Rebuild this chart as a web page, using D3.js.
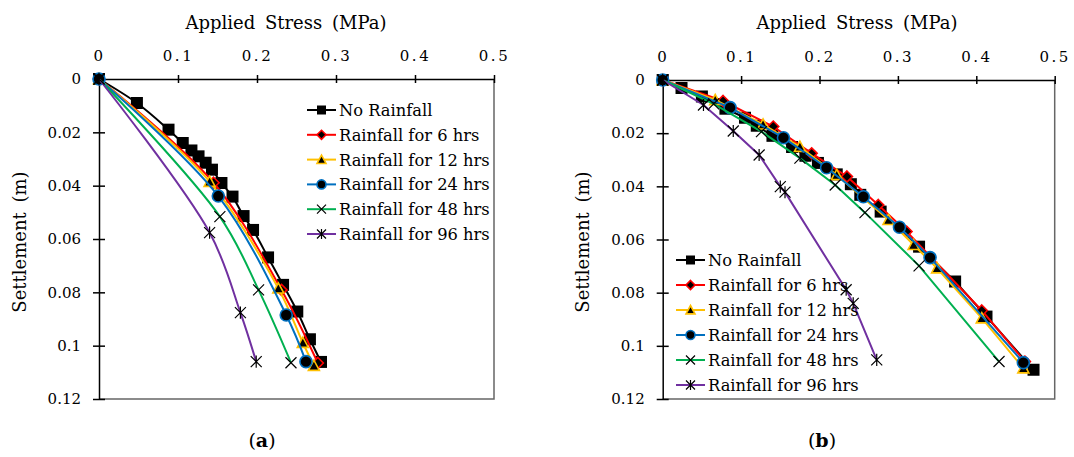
<!DOCTYPE html>
<html lang="en">
<head>
<meta charset="UTF-8">
<title>Settlement vs Applied Stress</title>
<style>
  body { margin: 0; background: #fff; }
  svg text { font-family: "DejaVu Serif", "Liberation Serif", serif; }
  .axis path, .axis line { stroke: #000; stroke-width: 1.5; }
  .xaxis .tick text { font-size: 15px; letter-spacing: 2.5px; fill: #000; }
  .yaxis .tick text { font-size: 15px; fill: #000; }
  .frame { fill: none; stroke: #666; stroke-width: 1.5; }
  .title { font-size: 18px; word-spacing: 4px; fill: #000; }
  .ytitle { font-size: 18px; word-spacing: 4px; fill: #000; }
  .legend text { font-size: 16.3px; fill: #000; }
  .caption { font-size: 19px; fill: #000; }
  .series { fill: none; stroke-width: 2; }
</style>
</head>
<body>
<svg id="chart" width="1074" height="457" style="display:block"></svg>
<script src="https://d3js.org/d3.v7.min.js"></script>
<script>
// axis ticks
const stressTicks = [0, 0.1, 0.2, 0.3, 0.4, 0.5];
const stressTickLabels = ["0", "0.1", "0.2", "0.3", "0.4", "0.5"];
const settleTicks = [0, 0.02, 0.04, 0.06, 0.08, 0.1, 0.12];
const settleTickLabels = ["0", "0.02", "0.04", "0.06", "0.08", "0.1", "0.12"];

const seriesNames = ["No Rainfall", "Rainfall for 6 hrs", "Rainfall for 12 hrs",
                     "Rainfall for 24 hrs", "Rainfall for 48 hrs", "Rainfall for 96 hrs"];

// panel (a): [applied stress MPa, settlement m]
const aNoRain = [[0,0],[0.048,0.0090],[0.088,0.0190],[0.106,0.0240],[0.117,0.0268],[0.126,0.0290],
                 [0.135,0.0314],[0.143,0.0340],[0.155,0.0390],[0.169,0.0441],[0.183,0.0514],
                 [0.195,0.0566],[0.214,0.0669],[0.233,0.0772],[0.251,0.0872],[0.267,0.0976],[0.281,0.1061]];
const aRain6 = [[0,0],[0.145,0.0389],[0.231,0.0791],[0.277,0.1065]];
const aRain12 = [[0,0],[0.140,0.0385],[0.227,0.0785],[0.258,0.0989],[0.272,0.1075]];
const aRain24 = [[0,0],[0.151,0.0439],[0.237,0.0885],[0.262,0.1060]];
const aRain48 = [[0,0],[0.153,0.0516],[0.202,0.0791],[0.243,0.1064]];
const aRain96 = [[0,0],[0.140,0.0576],[0.179,0.0876],[0.199,0.1060]];

// panel (b)
const bNoRain = [[0,0],[0.024,0.0030],[0.050,0.0062],[0.080,0.0108],[0.105,0.0142],[0.120,0.0172],
                 [0.140,0.0210],[0.165,0.0252],[0.182,0.0285],[0.198,0.0312],[0.222,0.0355],
                 [0.240,0.0392],[0.252,0.0432],[0.278,0.0495],[0.327,0.0627],[0.373,0.0758],
                 [0.413,0.0890],[0.473,0.1090]];
const bRain6 = [[0,0],[0.077,0.0079],[0.141,0.0175],[0.190,0.0276],[0.235,0.0363],[0.275,0.0470],
                [0.311,0.0570],[0.407,0.0867],[0.462,0.1059]];
const bRain12 = [[0,0],[0.067,0.0075],[0.128,0.0167],[0.175,0.0251],[0.222,0.0357],[0.288,0.0526],
                 [0.320,0.0620],[0.350,0.0708],[0.407,0.0896],[0.460,0.1084]];
const bRain24 = [[0,0],[0.086,0.0104],[0.154,0.0217],[0.209,0.0330],[0.256,0.0439],[0.302,0.0554],
                 [0.341,0.0668],[0.460,0.1063]];
const bRain48 = [[0,0],[0.065,0.0090],[0.126,0.0194],[0.175,0.0294],[0.220,0.0395],[0.258,0.0499],
                 [0.327,0.0699],[0.429,0.1059]];
const bRain96 = [[0,0],[0.052,0.0094],[0.090,0.0192],[0.123,0.0282],[0.150,0.0401],[0.156,0.0422],
                 [0.234,0.0789],[0.243,0.0840],[0.273,0.1053]];

const styles = [
  { color: "#000000", marker: "square" },
  { color: "#FF0000", marker: "diamond" },
  { color: "#FFC000", marker: "triangle" },
  { color: "#0070C0", marker: "circle" },
  { color: "#00B050", marker: "x" },
  { color: "#7030A0", marker: "star" }
];

const serif = '"DejaVu Serif", "Liberation Serif", serif';
const svg = d3.select("#chart");

function markerPath(type, s) {
  const h = s / 2;
  if (type === "square") return `M${-h},${-h}H${h}V${h}H${-h}Z`;
  if (type === "diamond") return `M0,${-h}L${h},0L0,${h}L${-h},0Z`;
  if (type === "triangle") return `M0,${-h}L${h},${h*0.85}L${-h},${h*0.85}Z`;
  if (type === "circle") return `M${h},0A${h},${h} 0 1,1 ${-h},0A${h},${h} 0 1,1 ${h},0Z`;
  if (type === "x") return `M${-h},${-h}L${h},${h}M${-h},${h}L${h},${-h}`;
  if (type === "star") return `M${-h},${-h}L${h},${h}M${-h},${h}L${h},${-h}M0,${-h*1.1}V${h*1.1}`;
}

function drawMarker(g, type, color, size) {
  const p = g.append("path").attr("d", markerPath(type, size));
  if (type === "square") p.attr("fill", "#000");
  else if (type === "x" || type === "star") p.attr("fill", "none").attr("stroke", "#000").attr("stroke-width", 1.2);
  else p.attr("fill", "#000").attr("stroke", color).attr("stroke-width", 1.6);
}

function drawPanel(p) {
  const x = d3.scaleLinear().domain([0, 0.5]).range([p.left, p.right]);
  const y = d3.scaleLinear().domain([0, 0.12]).range([p.top, p.bottom]);

  // frame (right + bottom)
  svg.append("path").attr("class", "frame")
    .attr("d", `M${p.right},${p.top}V${p.bottom}H${p.left}`);

  const xa = svg.append("g").attr("class", "axis xaxis")
    .attr("transform", `translate(0,${p.top})`)
    .call(d3.axisTop(x).tickValues(stressTicks)
      .tickFormat((d, i) => stressTickLabels[i])
      .tickSizeInner(4).tickSizeOuter(0).tickPadding(14));
  xa.attr("font-family", serif).attr("font-size", null);
  xa.selectAll(".tick line").attr("y1", 4);

  const ya = svg.append("g").attr("class", "axis yaxis")
    .attr("transform", `translate(${p.left},0)`)
    .call(d3.axisLeft(y).tickValues(settleTicks)
      .tickFormat((d, i) => settleTickLabels[i])
      .tickSizeInner(6).tickSizeOuter(0).tickPadding(12));
  ya.attr("font-family", serif).attr("font-size", null);
  ya.selectAll(".tick line").attr("x1", 6);

  const line = d3.line().x(d => x(d[0])).y(d => y(d[1])).curve(p.curve);

  p.series.forEach((data, i) => {
    const st = styles[i];
    svg.append("path").attr("class", "series")
      .attr("d", line(data)).attr("stroke", st.color);
    const g = svg.append("g");
    data.forEach(d => {
      drawMarker(g.append("g").attr("transform", `translate(${x(d[0])},${y(d[1])})`),
        st.marker, st.color, st.marker === "circle" || st.marker === "square" ? 12 : 11);
    });
  });

  // legend
  const lg = svg.append("g").attr("class", "legend");
  seriesNames.forEach((name, i) => {
    const st = styles[i];
    const yy = p.legY + i * p.legStep;
    lg.append("line").attr("x1", p.legX).attr("x2", p.legX + 29)
      .attr("y1", yy).attr("y2", yy).attr("stroke", st.color).attr("stroke-width", 2);
    drawMarker(lg.append("g").attr("transform", `translate(${p.legX + 14.5},${yy})`),
      st.marker, st.color, 9);
    lg.append("text").attr("x", p.legX + 32).attr("y", yy + 6)
      .attr("font-family", serif).text(name);
  });

  svg.append("text").attr("class", "title").attr("font-family", serif)
    .attr("x", p.titleX).attr("y", 29).attr("text-anchor", "middle")
    .text("Applied Stress (MPa)");

  svg.append("text").attr("class", "ytitle").attr("font-family", serif)
    .attr("transform", `translate(${p.ytitleX},242) rotate(-90)`)
    .attr("text-anchor", "middle").attr("dy", "0.35em")
    .text("Settlement (m)");

  const cap = svg.append("text").attr("class", "caption").attr("font-family", serif)
    .attr("x", p.capX).attr("y", 447).attr("text-anchor", "middle");
  cap.append("tspan").text("(");
  cap.append("tspan").attr("font-weight", "bold").text(p.letter);
  cap.append("tspan").text(")");
}

drawPanel({
  left: 99, right: 494, top: 79, bottom: 399,
  series: [aNoRain, aRain6, aRain12, aRain24, aRain48, aRain96],
  curve: d3.curveCatmullRom,
  legX: 307, legY: 110, legStep: 24.8,
  titleX: 286, ytitleX: 20, capX: 262, letter: "a"
});

drawPanel({
  left: 662.7, right: 1054.7, top: 80, bottom: 399,
  series: [bNoRain, bRain6, bRain12, bRain24, bRain48, bRain96],
  curve: d3.curveLinear,
  legX: 676, legY: 260, legStep: 25,
  titleX: 857, ytitleX: 583, capX: 822, letter: "b"
});
</script>
</body>
</html>
